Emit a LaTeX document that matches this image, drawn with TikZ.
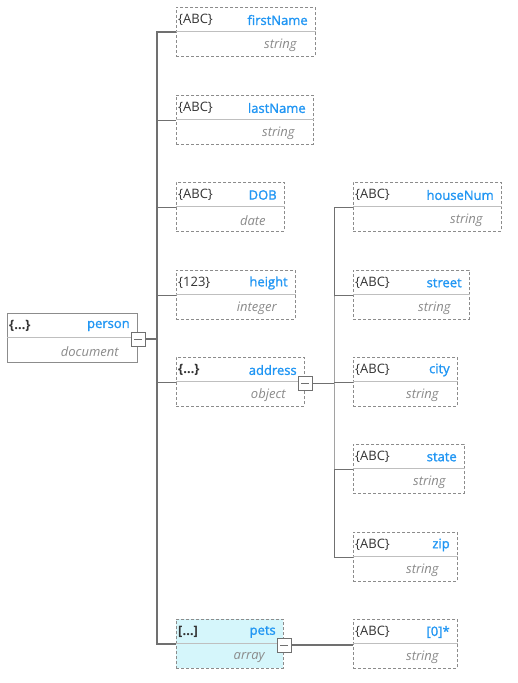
\documentclass[tikz,border=0pt]{standalone}
\usepackage{fontspec}
\setmainfont{Open Sans}
\newfontfamily\namefont[FakeBold=1.4]{Open Sans}
\definecolor{namecol}{HTML}{2196F3}
\definecolor{iconcol}{HTML}{333333}
\definecolor{typecol}{HTML}{8A8A8A}
\definecolor{edgecol}{HTML}{8C8C8C}
\definecolor{linecol}{HTML}{707070}
\definecolor{petfill}{HTML}{D5F6FB}
\begin{document}
\begin{tikzpicture}[x=1pt,y=-1pt,every node/.style={font=\fontsize{13}{15}\selectfont,inner sep=0pt},
fbox/.style={draw=edgecol,line width=0.9pt,dash pattern=on 3pt off 2pt,minimum height=49pt,anchor=north west},
solidbox/.style={solid},petbox/.style={fill=petfill},plainbox/.style={},
divline/.style={draw=black!25,line width=1pt},
icontxt/.style={text=iconcol,anchor=west},nametxt/.style={text=namecol,font=\fontsize{13}{15}\namefont,anchor=east},
typetxt/.style={text=typecol,font=\fontsize{13}{15}\selectfont\itshape,anchor=east},
toggle/.style={draw=linecol,fill=white,line width=1pt,minimum size=14pt,
  path picture={\draw[linecol,line width=1pt] ([xshift=3pt]path picture bounding box.west) -- ([xshift=-3pt]path picture bounding box.east);}},
thickline/.style={draw=linecol,line width=1.8pt},thinline/.style={draw=linecol,line width=0.9pt}]
\useasboundingbox (0,0) rectangle (518,683);
\foreach \n/\x/\y/\w/\s/\i/\l/\t in {person/7/313/130/solidbox/\textbf{\{…\}}/person/document,
  firstName/176/7/139/plainbox/\{ABC\}/firstName/string, lastName/176/95/137/plainbox/\{ABC\}/lastName/string,
  DOB/176/182/108/plainbox/\{ABC\}/DOB/date, height/176/270/119/plainbox/\{123\}/height/integer,
  address/176/357/128/plainbox/\textbf{\{…\}}/address/object, pets/176/619/107/petbox/\textbf{[…]}/pets/array,
  houseNum/353/182/148/plainbox/\{ABC\}/houseNum/string, street/353/270/116/plainbox/\{ABC\}/street/string,
  city/353/357/104/plainbox/\{ABC\}/city/string, state/353/444/111/plainbox/\{ABC\}/state/string,
  zip/353/532/104/plainbox/\{ABC\}/zip/string, item0/353/619/104/plainbox/\{ABC\}/{[0]*}/string}{
  \node[fbox,\s,minimum width=\w] (\n) at (\x,\y) {};
  \draw[divline] (\n.west) -- (\n.east);
  \node[icontxt] (\n-i) at ([xshift=2pt,yshift=-13pt]\n.north west) {\i};
  \node[nametxt] (\n-n) at ([xshift=-8pt,yshift=-13pt]\n.north east) {\l};
  \node[typetxt] (\n-t) at ([xshift=-19pt,yshift=-38.5pt]\n.north east) {\t};
}
\coordinate (trunk) at (157,339); \coordinate (subtrunk) at (334,383);
\draw[thickline] (firstName.west) -| (trunk) |- (pets.west);
\foreach \f in {lastName,DOB,height,address} \draw[thinline] (trunk |- \f.west) -- (\f.west);
\draw[thinline] (houseNum.west) -| (subtrunk) |- (zip.west);
\foreach \f in {street,city,state} \draw[thinline] (subtrunk |- \f.west) -- (\f.west);
\node[toggle] (personTog) at (138,339) {}; \node[toggle] (addressTog) at (305,383) {};
\node[toggle] (petsTog) at (284,645) {};
\draw[thickline] (personTog.east) -- (trunk);
\draw[thinline] (addressTog.east) -- (subtrunk);
\draw[thickline] (petsTog.east) -- (item0.west |- petsTog.east);
\end{tikzpicture}
\end{document}
